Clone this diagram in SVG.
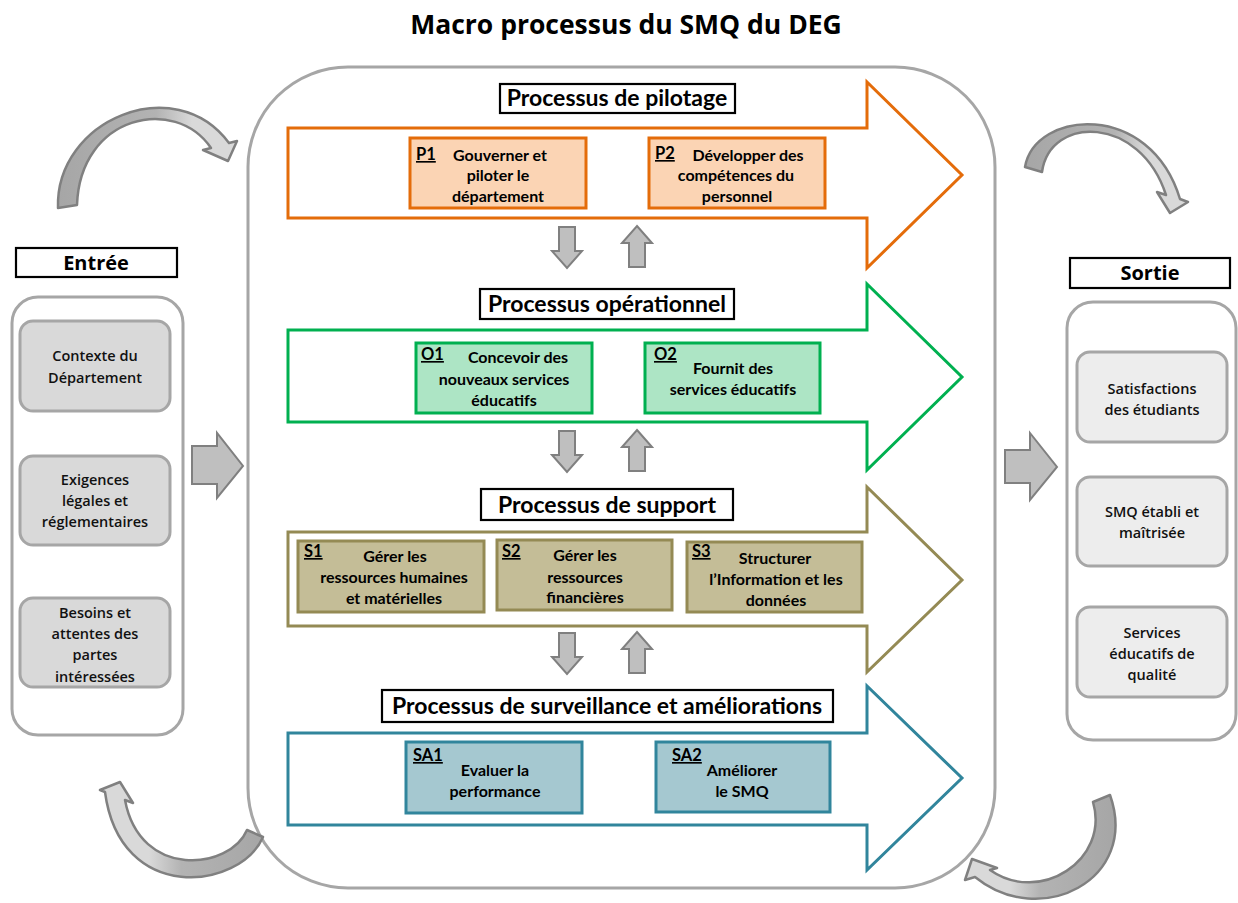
<svg xmlns="http://www.w3.org/2000/svg" width="1238" height="903" viewBox="0 0 1238 903">
<defs>
<style>
.t{font-family:"Lato","Carlito","Liberation Sans",sans-serif;font-weight:bold;fill:#000}
.s{font-family:"Open Sans","Liberation Sans",sans-serif;font-weight:600;font-size:14.5px;fill:#111;text-anchor:middle}
.h{font-size:23px;text-anchor:middle}
.b{font-size:16px;text-anchor:middle}
.c{font-size:16.5px;text-decoration:underline}
.lbl{fill:#fff;stroke:#000;stroke-width:2.2}
.cont{fill:#fff;stroke:#a6a6a6;stroke-width:3}
.gin{fill:#d9d9d9;stroke:#a6a6a6;stroke-width:3}
.gout{fill:#ededed;stroke:#a6a6a6;stroke-width:3}
.blk{fill:#bfbfbf;stroke:#808080;stroke-width:2}
.crv{stroke:#808080;stroke-width:2.5;stroke-linejoin:round}
</style>
<linearGradient id="gL" x1="0" y1="0" x2="1" y2="0"><stop offset="0" stop-color="#a6a6a6"/><stop offset="0.55" stop-color="#b3b3b3"/><stop offset="0.75" stop-color="#d9d9d9"/></linearGradient>
<linearGradient id="gR" x1="1" y1="0" x2="0" y2="0"><stop offset="0" stop-color="#a6a6a6"/><stop offset="0.5" stop-color="#b3b3b3"/><stop offset="0.7" stop-color="#d9d9d9"/></linearGradient>
<path id="dn" d="M-8,0 H8 V24 H15 L0,41 L-15,24 H-8 Z"/>
<path id="up" d="M0,0 L15,17 H8 V41 H-8 V17 H-15 Z"/>
</defs>
<rect width="1238" height="903" fill="#fff"/>

<g id="title"><text class="t" x="626" y="34" style="font-family:'Open Sans','Liberation Sans',sans-serif;font-size:26.5px;text-anchor:middle">Macro processus du SMQ du DEG</text></g>

<g id="central"><rect class="cont" x="248" y="67" width="747" height="821" rx="100"/></g>

<g id="pilotage">
<path d="M288,128 H867 V82 L962,175 L867,268 V218 H288 Z" fill="#fff" stroke="#e46c0a" stroke-width="3"/>
<rect class="lbl" x="500" y="84" width="235" height="29"/>
<text class="t h" x="617" y="106">Processus de pilotage</text>
</g>
<g id="P1">
<rect x="410" y="138" width="176" height="70" fill="#fbd4b4" stroke="#e46c0a" stroke-width="3"/>
<text class="t c" x="416" y="160">P1</text>
<text class="t b" x="500" y="161">Gouverner et</text>
<text class="t b" x="498" y="181">piloter le</text>
<text class="t b" x="498" y="202">département</text>
</g>
<g id="P2">
<rect x="649" y="138" width="176" height="70" fill="#fbd4b4" stroke="#e46c0a" stroke-width="3"/>
<text class="t c" x="655" y="159">P2</text>
<text class="t b" x="748" y="161">Développer des</text>
<text class="t b" x="736" y="181">compétences  du</text>
<text class="t b" x="737" y="202">personnel</text>
</g>

<g id="operationnel">
<path d="M288,330 H867 V284 L962,377 L867,470 V422 H288 Z" fill="#fff" stroke="#00b050" stroke-width="3"/>
<rect class="lbl" x="480" y="289" width="254" height="30"/>
<text class="t h" x="607" y="312">Processus opérationnel</text>
</g>
<g id="O1">
<rect x="416" y="343" width="176" height="70" fill="#ade5c5" stroke="#00b050" stroke-width="3"/>
<text class="t c" x="421" y="360">O1</text>
<text class="t b" x="518" y="363">Concevoir des</text>
<text class="t b" x="504" y="385">nouveaux services</text>
<text class="t b" x="504" y="406">éducatifs</text>
</g>
<g id="O2">
<rect x="645" y="343" width="175" height="70" fill="#ade5c5" stroke="#00b050" stroke-width="3"/>
<text class="t c" x="654" y="360">O2</text>
<text class="t b" x="733" y="374">Fournit des</text>
<text class="t b" x="733" y="395">services éducatifs</text>
</g>

<g id="support">
<path d="M288,532 H867 V487 L962,580 L867,672 V626 H288 Z" fill="#fff" stroke="#948a54" stroke-width="3"/>
<rect class="lbl" x="481" y="489" width="252" height="31"/>
<text class="t h" x="607" y="513">Processus de support</text>
</g>
<g id="S1">
<rect x="298" y="541" width="186" height="71" fill="#c4bd97" stroke="#948a54" stroke-width="3"/>
<text class="t c" x="304" y="557">S1</text>
<text class="t b" x="395" y="562">Gérer les</text>
<text class="t b" x="394" y="583">ressources humaines</text>
<text class="t b" x="394" y="604">et matérielles</text>
</g>
<g id="S2">
<rect x="497" y="540" width="175" height="70" fill="#c4bd97" stroke="#948a54" stroke-width="3"/>
<text class="t c" x="502" y="557">S2</text>
<text class="t b" x="585" y="561">Gérer les</text>
<text class="t b" x="585" y="583">ressources</text>
<text class="t b" x="585" y="603">financières</text>
</g>
<g id="S3">
<rect x="687" y="542" width="175" height="70" fill="#c4bd97" stroke="#948a54" stroke-width="3"/>
<text class="t c" x="692" y="557">S3</text>
<text class="t b" x="775" y="564">Structurer</text>
<text class="t b" x="776" y="585">l’Information et les</text>
<text class="t b" x="776" y="606">données</text>
</g>

<g id="surveillance">
<path d="M288,733 H867 V686 L962,778 L867,870 V825 H288 Z" fill="#fff" stroke="#31859c" stroke-width="3"/>
<rect class="lbl" x="382" y="690" width="451" height="32"/>
<text class="t h" x="607" y="714">Processus de surveillance et améliorations</text>
</g>
<g id="SA1">
<rect x="406" y="742" width="176" height="71" fill="#a5c8d0" stroke="#31859c" stroke-width="3"/>
<text class="t c" x="413" y="761">SA1</text>
<text class="t b" x="495" y="776">Evaluer la</text>
<text class="t b" x="495" y="797">performance</text>
</g>
<g id="SA2">
<rect x="656" y="742" width="174" height="70" fill="#a5c8d0" stroke="#31859c" stroke-width="3"/>
<text class="t c" x="672" y="761">SA2</text>
<text class="t b" x="742" y="776">Améliorer</text>
<text class="t b" x="742" y="797">le SMQ</text>
</g>

<g id="entree">
<rect class="lbl" x="16" y="248" width="161" height="29"/>
<text class="t" x="96" y="270" style="font-family:'Open Sans','Liberation Sans',sans-serif;font-size:20px;text-anchor:middle">Entrée</text>
<rect class="cont" x="12" y="297" width="171" height="438" rx="26"/>
</g>
<g id="E1"><rect class="gin" x="20" y="321" width="150" height="90" rx="13"/>
<text class="s" x="95" y="361">Contexte du</text><text class="s" x="95" y="383">Département</text></g>
<g id="E2"><rect class="gin" x="20" y="456" width="150" height="89" rx="13"/>
<text class="s" x="95" y="485">Exigences</text><text class="s" x="95" y="506">légales et</text><text class="s" x="95" y="527">réglementaires</text></g>
<g id="E3"><rect class="gin" x="20" y="598" width="150" height="89" rx="13"/>
<text class="s" x="95" y="618">Besoins et</text><text class="s" x="95" y="639">attentes des</text><text class="s" x="95" y="660">partes</text><text class="s" x="95" y="682">intéressées</text></g>

<g id="sortie">
<rect class="lbl" x="1070" y="258" width="160" height="30"/>
<text class="t" x="1150" y="280" style="font-family:'Open Sans','Liberation Sans',sans-serif;font-size:20px;text-anchor:middle">Sortie</text>
<rect class="cont" x="1067" y="302" width="169" height="438" rx="26"/>
</g>
<g id="R1"><rect class="gout" x="1077" y="352" width="150" height="90" rx="13"/>
<text class="s" x="1152" y="394">Satisfactions</text><text class="s" x="1152" y="415">des étudiants</text></g>
<g id="R2"><rect class="gout" x="1077" y="477" width="150" height="89" rx="13"/>
<text class="s" x="1152" y="517">SMQ établi et</text><text class="s" x="1152" y="538">maîtrisée</text></g>
<g id="R3"><rect class="gout" x="1077" y="607" width="150" height="90" rx="13"/>
<text class="s" x="1152" y="638">Services</text><text class="s" x="1152" y="659">éducatifs de</text><text class="s" x="1152" y="680">qualité</text></g>

<g id="connectors">
<use href="#dn" class="blk" x="567" y="227"/>
<use href="#up" class="blk" x="637" y="226"/>
<use href="#dn" class="blk" x="567" y="431"/>
<use href="#up" class="blk" x="637" y="430"/>
<use href="#dn" class="blk" x="567" y="633"/>
<use href="#up" class="blk" x="637" y="632"/>
<path class="blk" d="M192,446 H217 V433 L243,466 L217,498 V484 H192 Z"/>
<path class="blk" d="M1005,450 H1030 V433 L1057,467 L1030,500 V483 H1005 Z"/>
<path class="crv" fill="url(#gL)" d="M58,208 C55,120 175,70 229,143 L237,141 L228,161 L203,150 L211,148 C175,95 80,115 77,205 Z"/>
<path class="crv" fill="url(#gL)" d="M1025,167 C1035,110 1150,100 1180,199 L1188,202 L1170,213 L1157,192 L1166,195 C1140,115 1050,115 1042,172 Z"/>
<path class="crv" fill="url(#gR)" d="M263,837 C240,890 120,905 105,792 L100,790 L120,782 L133,803 L125,800 C140,880 230,870 247,830 Z"/>
<path class="crv" fill="url(#gR)" d="M1110,795 C1140,880 1040,930 975,877 L965,880 L972,859 L997,868 L990,870 C1040,905 1110,860 1093,802 Z"/>
</g>
</svg>
